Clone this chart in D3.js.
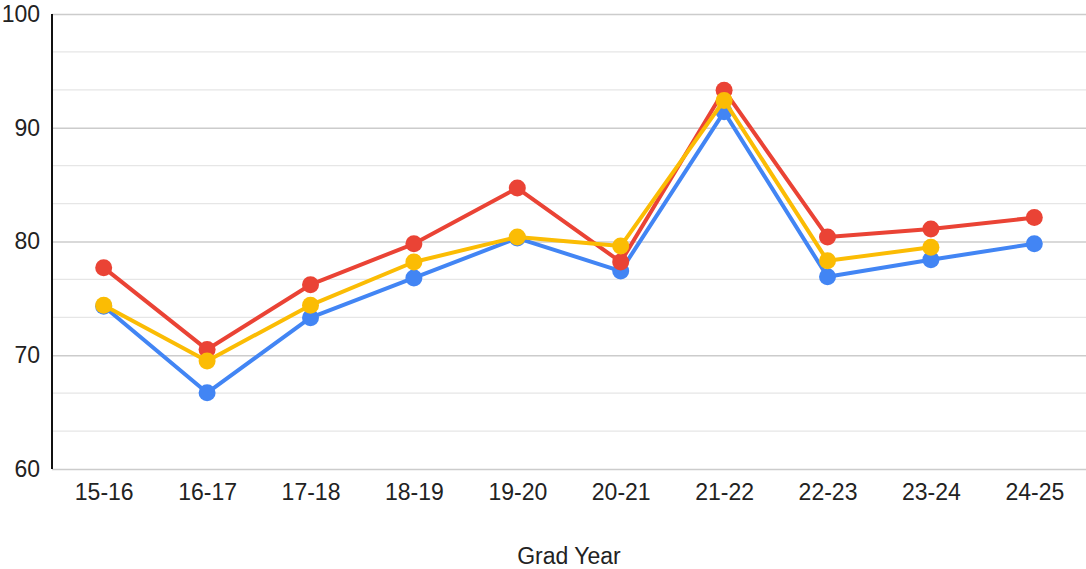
<!DOCTYPE html>
<html><head><meta charset="utf-8">
<script src="https://cdn.jsdelivr.net/npm/d3@7"></script>
<style>body{margin:0;background:#fff}svg{display:block}text{font-family:"Liberation Sans",Arial,sans-serif;fill:#222}</style>
</head><body>
<svg id="c" width="1086" height="569"></svg>
<script>
const categories = ["15-16","16-17","17-18","18-19","19-20","20-21","21-22","22-23","23-24","24-25"];
const seriesBlue   = [74.3, 66.7, 73.3, 76.8, 80.3, 77.4, 91.4, 76.9, 78.4, 79.8];
const seriesRed    = [77.7, 70.5, 76.2, 79.8, 84.7, 78.2, 93.3, 80.4, 81.1, 82.1];
const seriesYellow = [74.4, 69.5, 74.4, 78.2, 80.4, 79.6, 92.4, 78.3, 79.5, null];
const yTicks = [60, 70, 80, 90, 100];
const xTitle = "Grad Year";

const series = [
  {values: seriesBlue, color: "#4285F4"},
  {values: seriesRed, color: "#EA4335"},
  {values: seriesYellow, color: "#FBBC04"}
];

const svg = d3.select("#c");
const mLeft = 52, mRight = 1086, mTop = 14, mBottom = 469;
const x = d3.scalePoint().domain(categories).range([mLeft, mRight]).padding(0.5);
const y = d3.scaleLinear().domain([60, 100]).range([mBottom, mTop]);

// minor gridlines
const minor = [];
for (let i = 0; i < 4; i++) for (let k = 1; k < 3; k++) minor.push(60 + i*10 + k*10/3);
svg.append("g").selectAll("line").data(minor).join("line")
  .attr("x1", mLeft).attr("x2", mRight).attr("y1", d => y(d)).attr("y2", d => y(d))
  .attr("stroke", "#e6e6e6").attr("stroke-width", 1.3);

// major gridlines via axis
const gy = svg.append("g").attr("transform", `translate(${mLeft},0)`)
  .call(d3.axisLeft(y).tickValues(yTicks).tickSize(-(mRight-mLeft)).tickPadding(12).tickFormat(d3.format("d")));
gy.select(".domain").remove();
gy.selectAll(".tick line").attr("stroke", "#cccccc").attr("stroke-width", 1.5);
gy.selectAll(".tick text").attr("font-size", 23).attr("fill", "#222").attr("x", -12);

// left axis line
svg.append("line").attr("x1", mLeft).attr("x2", mLeft).attr("y1", mTop).attr("y2", mBottom)
  .attr("stroke", "#111").attr("stroke-width", 2);

// x axis labels
const gx = svg.append("g").attr("transform", `translate(0,${mBottom})`)
  .call(d3.axisBottom(x).tickSize(0).tickPadding(15));
gx.select(".domain").remove();
gx.selectAll(".tick text").attr("font-size", 23).attr("fill", "#222");

svg.append("text").attr("x", (mLeft+mRight)/2).attr("y", 564).attr("text-anchor", "middle")
  .attr("font-size", 23).text(xTitle);

const line = d3.line().defined(d => d != null).x((d, i) => x(categories[i])).y(d => y(d));
series.forEach(s => {
  const idx = s.values.map((v, i) => ({v, i})).filter(o => o.v != null);
  svg.append("path").attr("d", line(s.values)).attr("fill", "none")
    .attr("stroke", s.color).attr("stroke-width", 4).attr("stroke-linejoin", "round");
  svg.append("g").selectAll("circle").data(idx).join("circle")
    .attr("cx", o => x(categories[o.i])).attr("cy", o => y(o.v)).attr("r", 8.5)
    .attr("fill", s.color);
});
</script>
</body></html>
